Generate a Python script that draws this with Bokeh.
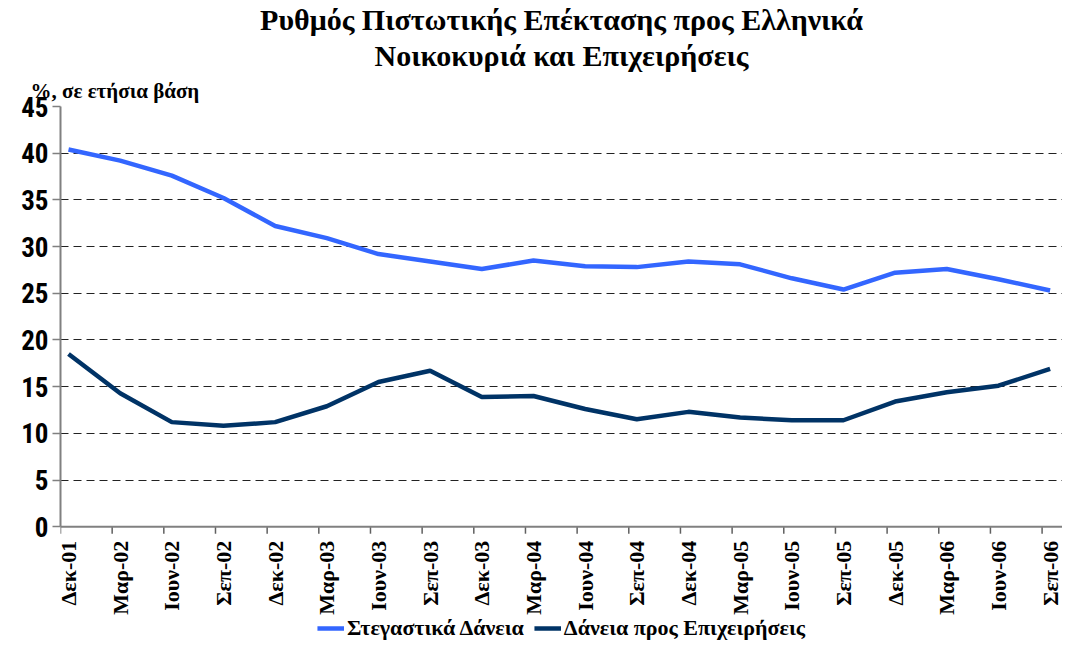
import math
from bokeh.plotting import figure
from bokeh.models import (FixedTicker, Range1d, Title, Legend, LegendItem, Span, ColumnDataSource)
from bokeh.core.properties import value
from bokeh.embed import file_html
from bokeh.resources import INLINE

categories = ["Δεκ-01", "Μαρ-02", "Ιουν-02", "Σεπ-02", "Δεκ-02", "Μαρ-03", "Ιουν-03", "Σεπ-03",
              "Δεκ-03", "Μαρ-04", "Ιουν-04", "Σεπ-04", "Δεκ-04", "Μαρ-05", "Ιουν-05", "Σεπ-05",
              "Δεκ-05", "Μαρ-06", "Ιουν-06", "Σεπ-06"]
housing = [40.4, 39.2, 37.6, 35.2, 32.2, 30.9, 29.2, 28.4, 27.6, 28.5, 27.9, 27.8, 28.4, 28.1,
           26.6, 25.4, 27.2, 27.6, 26.5, 25.3]
business = [18.5, 14.3, 11.2, 10.8, 11.2, 12.9, 15.5, 16.7, 13.9, 14.0, 12.6, 11.5, 12.3, 11.7,
            11.4, 11.4, 13.4, 14.4, 15.1, 16.9]
y_ticks = [0, 5, 10, 15, 20, 25, 30, 35, 40, 45]
series_names = ["Στεγαστικά Δάνεια", "Δάνεια προς Επιχειρήσεις"]
title_lines = ["Ρυθμός Πιστωτικής Επέκτασης προς Ελληνικά", "Νοικοκυριά και Επιχειρήσεις"]
unit_label = "%, σε ετήσια βάση"

xs = list(range(len(categories)))
off = 0.155
y_min, y_max = y_ticks[0], y_ticks[-1]
below_room = 12.4  # value units reserved under the x axis for labels and legend

p = figure(frame_width=1002, frame_height=536, output_backend="svg", toolbar_location=None,
           x_axis_location=None, y_axis_location="left",
           x_range=Range1d(-off, len(categories) - 1 + 0.24),
           y_range=Range1d(y_min - below_room, y_max),
           min_border_left=60, min_border_right=0, min_border_top=0, min_border_bottom=0)
p.title.visible = False
p.outline_line_color = None
p.background_fill_color = "white"
p.border_fill_color = "white"

serif = "Liberation Serif"
narrow = "Liberation Sans Narrow, Roboto Condensed, Arial Narrow, sans-serif"

# y axis
ya = p.yaxis[0]
ya.ticker = FixedTicker(ticks=y_ticks)
ya.bounds = (y_min, y_max)
ya.axis_line_color = "#808080"
ya.axis_line_width = 2
ya.major_tick_line_color = "#808080"
ya.major_tick_line_width = 1.5
ya.major_tick_out = 8
ya.major_tick_in = 0
ya.minor_tick_line_color = None
ya.major_label_text_font = narrow
ya.major_label_text_font_style = "bold"
ya.major_label_text_font_size = "27px"
ya.major_label_text_color = "black"
ya.major_label_standoff = 4

p.xgrid.visible = False
p.ygrid.ticker = FixedTicker(ticks=y_ticks)
p.ygrid.grid_line_color = "#222222"
p.ygrid.grid_line_dash = "8 5"
p.ygrid.grid_line_width = 1

# category axis drawn at value 0: line, tick marks between points, vertical labels
p.add_layout(Span(location=y_min, dimension="width", line_color="#808080", line_width=2))
p.ray(x=[i - off for i in xs], y=[y_min] * len(xs), length=7, length_units="screen",
      angle=-math.pi / 2, line_color="#606060", line_width=1.5)
lab_src = ColumnDataSource(dict(x=xs, y=[y_min] * len(xs), t=categories))
p.text(x="x", y="y", text="t", source=lab_src, angle=math.pi / 2, y_offset=14,
       text_align="right", text_baseline="middle", text_font=value(serif),
       text_font_style="bold", text_font_size="22px", text_color="black")

r1 = p.line(xs, housing, line_color="#3366FF", line_width=4.5)
r2 = p.line(xs, business, line_color="#003366", line_width=4.5)

legend = Legend(items=[LegendItem(label=series_names[0], renderers=[r1]),
                       LegendItem(label=series_names[1], renderers=[r2])],
                orientation="horizontal", location="bottom_center")
legend.label_text_font = serif
legend.label_text_font_style = "bold"
legend.label_text_font_size = "22px"
legend.label_text_color = "black"
legend.glyph_width = 27
legend.label_standoff = 3
legend.spacing = 10
legend.padding = 2
legend.margin = 1
legend.border_line_color = None
legend.background_fill_alpha = 0
p.add_layout(legend, "center")

# titles (first added is closest to the plot)
p.add_layout(Title(text=unit_label, align="left", offset=-30, text_font=serif,
                   text_font_style="bold", text_font_size="21px", text_color="black",
                   standoff=8), "above")
p.add_layout(Title(text=title_lines[1], align="center", text_font=serif,
                   text_font_style="bold", text_font_size="30px", text_color="black",
                   standoff=2), "above")
p.add_layout(Title(text=title_lines[0], align="center", text_font=serif,
                   text_font_style="bold", text_font_size="30px", text_color="black",
                   standoff=0), "above")

open("out.html", "w").write(file_html(p, INLINE))
